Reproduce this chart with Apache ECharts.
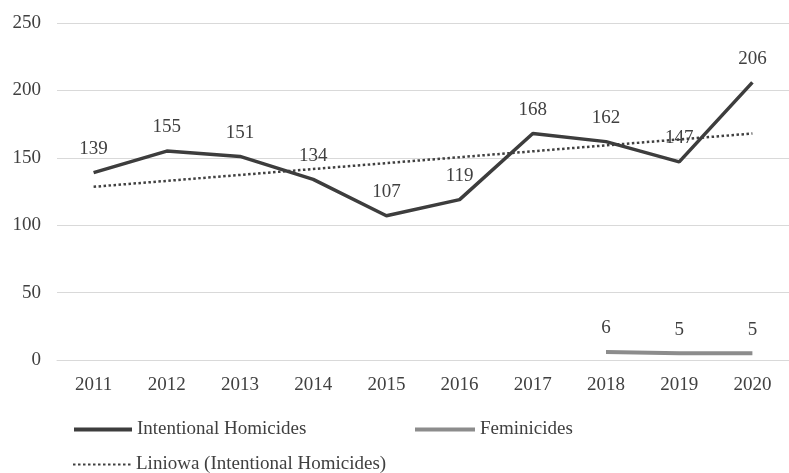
<!DOCTYPE html>
<html>
<head>
<meta charset="utf-8">
<script src="https://cdn.jsdelivr.net/npm/echarts@6/dist/echarts.min.js"></script>
<style>
html,body{margin:0;padding:0;background:#fff;}
#c{width:789px;height:473px;}
</style>
</head>
<body>
<div id="c"></div>
<script>
var years = ['2011','2012','2013','2014','2015','2016','2017','2018','2019','2020'];
var homicides = [139,155,151,134,107,119,168,162,147,206];
var feminicides = [null,null,null,null,null,null,null,6,5,5];
var trend = [128.5,null,null,null,null,null,null,null,null,168];
var yTicks = [0,50,100,150,200,250];

var font = 'Liberation Serif';
var txt = '#404040';
var legText = {fontFamily: font, fontSize: 19, color: txt};
var chart = echarts.init(document.getElementById('c'));
chart.setOption({
  backgroundColor: '#ffffff',
  animation: false,
  textStyle: {fontFamily: font, color: txt},
  grid: {left: 57, top: 23, width: 739, height: 337},
  xAxis: {
    type: 'category', data: years, boundaryGap: true,
    axisLine: {lineStyle: {color: '#d9d9d9', width: 1}},
    axisTick: {show: false},
    axisLabel: {color: txt, fontFamily: font, fontSize: 19, margin: 16}
  },
  yAxis: {
    type: 'value', min: yTicks[0], max: yTicks[yTicks.length-1], interval: 50,
    axisLine: {show: false}, axisTick: {show: false},
    splitLine: {lineStyle: {color: '#d9d9d9', width: 1}},
    axisLabel: {color: txt, fontFamily: font, fontSize: 19, margin: 16}
  },
  legend: [
    {data: ['Intentional Homicides'], left: 72, top: 420, padding: 0, itemWidth: 58, itemHeight: 20,
     itemStyle: {opacity: 0}, lineStyle: {width: 4}, textStyle: legText},
    {data: ['Feminicides'], left: 413, top: 420, padding: 0, itemWidth: 60, itemHeight: 20,
     itemStyle: {opacity: 0}, lineStyle: {width: 4}, textStyle: legText},
    {data: ['Liniowa (Intentional Homicides)'], left: 72, top: 455, padding: 0, itemWidth: 58, itemHeight: 20,
     itemStyle: {opacity: 0}, textStyle: legText}
  ],
  series: [
    {
      name: 'Intentional Homicides', type: 'line', data: homicides,
      symbol: 'circle', symbolSize: 0.1, z: 3,
      lineStyle: {color: '#3d3d3d', width: 3.5},
      itemStyle: {color: '#3d3d3d'},
      label: {show: true, position: 'top', distance: 14, color: txt, fontFamily: font, fontSize: 19}
    },
    {
      name: 'Feminicides', type: 'line', data: feminicides,
      symbol: 'circle', symbolSize: 0.1, z: 3,
      lineStyle: {color: '#8c8c8c', width: 4},
      itemStyle: {color: '#8c8c8c'},
      label: {show: true, position: 'top', distance: 14, color: txt, fontFamily: font, fontSize: 19}
    },
    {
      name: 'Liniowa (Intentional Homicides)', type: 'line', data: trend,
      connectNulls: true, symbol: 'none', z: 2,
      lineStyle: {color: '#404040', width: 2.5, type: [2.5, 2.5]},
      itemStyle: {color: '#404040'}
    }
  ]
});
</script>
</body>
</html>
